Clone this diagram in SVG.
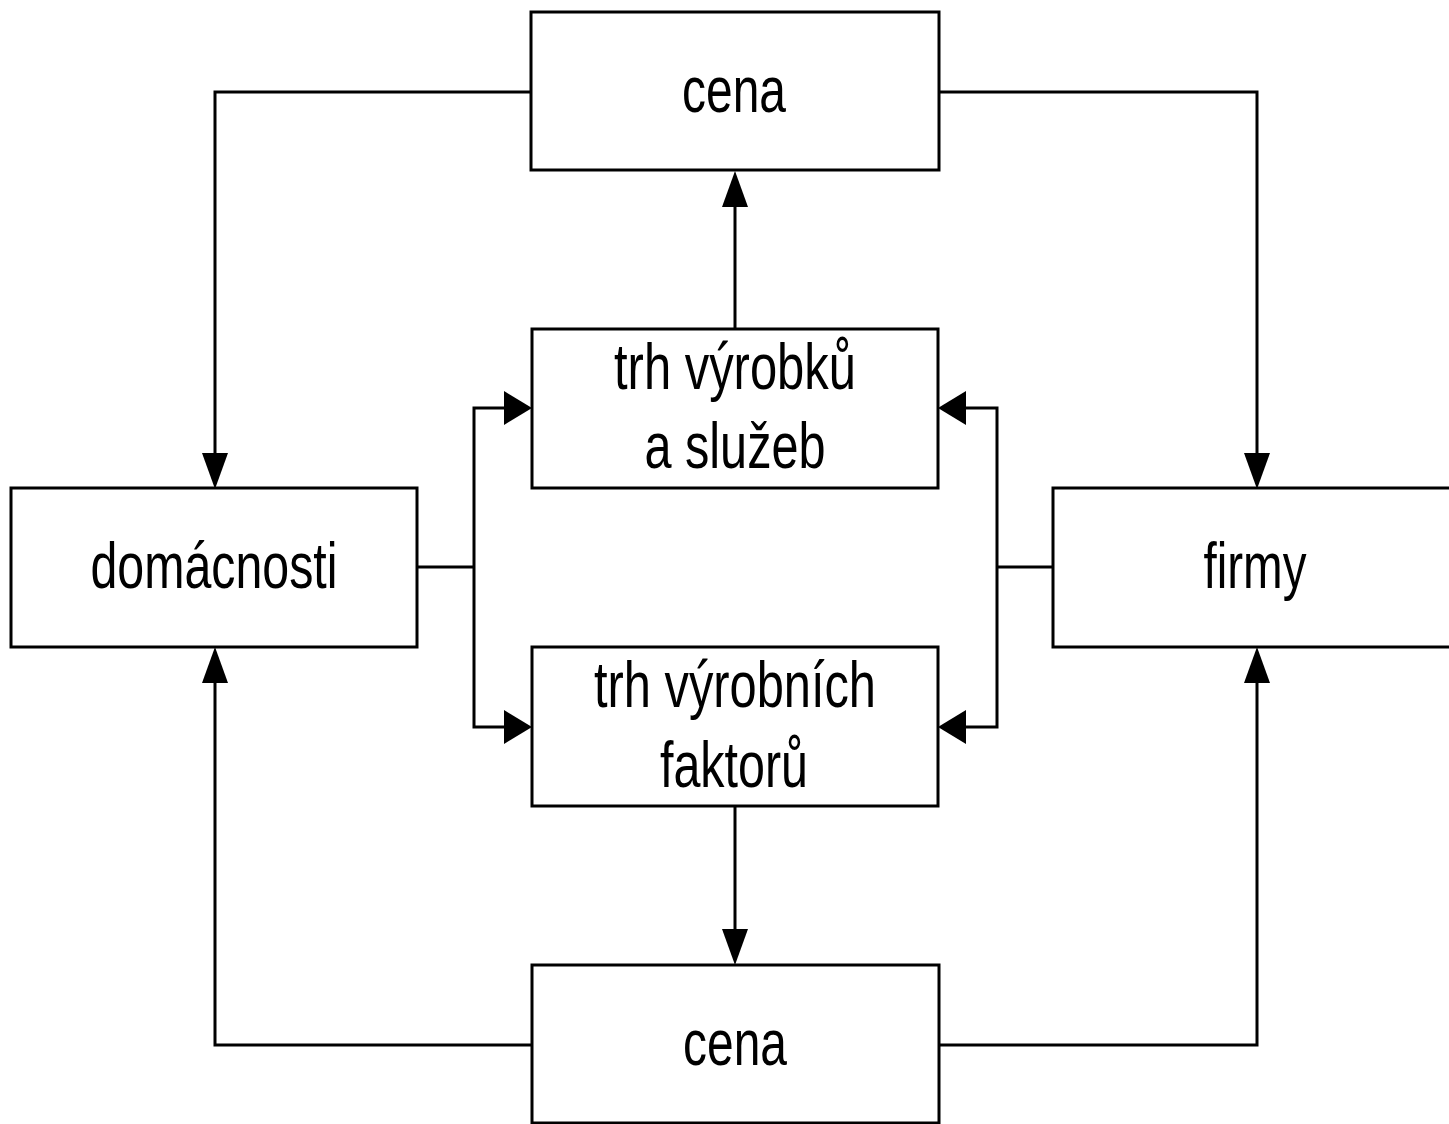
<svg xmlns="http://www.w3.org/2000/svg" width="1449" height="1124" viewBox="0 0 1449 1124">
<style>
.box{fill:#fff;stroke:#000;stroke-width:3}
.lbl{font-family:"Liberation Sans",Arial,sans-serif;font-size:64px;fill:#000;text-anchor:middle}
.ln{fill:none;stroke:#000;stroke-width:3}
.ah{fill:#000}
</style>
<rect width="1449" height="1124" fill="#fff"/>
<g id="connectors">
<polyline class="ln" points="531,92 215,92 215,455"/>
<polygon class="ah" points="202,453 228,453 215,489"/>
<polyline class="ln" points="939,92 1257,92 1257,455"/>
<polygon class="ah" points="1244,453 1270,453 1257,489"/>
<line class="ln" x1="735" y1="328" x2="735" y2="205"/>
<polygon class="ah" points="722,207 748,207 735,171"/>
<polyline class="ln" points="417,567 474,567"/>
<polyline class="ln" points="506,408 474,408 474,727 506,727"/>
<polygon class="ah" points="504,391 504,425 532,408"/>
<polygon class="ah" points="504,710 504,744 532,727"/>
<polyline class="ln" points="1053,567 997,567"/>
<polyline class="ln" points="965,408 997,408 997,727 965,727"/>
<polygon class="ah" points="966,391 966,425 938,408"/>
<polygon class="ah" points="966,710 966,744 938,727"/>
<line class="ln" x1="735" y1="806" x2="735" y2="930"/>
<polygon class="ah" points="722,929 748,929 735,965"/>
<polyline class="ln" points="532,1045 215,1045 215,682"/>
<polygon class="ah" points="202,683 228,683 215,647"/>
<polyline class="ln" points="939,1045 1257,1045 1257,682"/>
<polygon class="ah" points="1244,683 1270,683 1257,647"/>
</g>
<g id="node-cena-top">
<rect class="box" x="531" y="12" width="408" height="158"/>
<text class="lbl" x="734" y="112" textLength="104" lengthAdjust="spacingAndGlyphs">cena</text>
</g>
<g id="node-trh-vyrobku">
<rect class="box" x="532" y="329" width="406" height="159"/>
<text class="lbl" x="735" y="389" textLength="242" lengthAdjust="spacingAndGlyphs">trh výrobků</text>
<text class="lbl" x="735" y="468" textLength="181" lengthAdjust="spacingAndGlyphs">a služeb</text>
</g>
<g id="node-domacnosti">
<rect class="box" x="11" y="488" width="406" height="159"/>
<text class="lbl" x="214" y="588" textLength="247" lengthAdjust="spacingAndGlyphs">domácnosti</text>
</g>
<g id="node-firmy">
<rect class="box" x="1053" y="488" width="410" height="159"/>
<text class="lbl" x="1255" y="588" textLength="103" lengthAdjust="spacingAndGlyphs">firmy</text>
</g>
<g id="node-trh-vyrobnich">
<rect class="box" x="532" y="647" width="406" height="159"/>
<text class="lbl" x="735" y="707" textLength="282" lengthAdjust="spacingAndGlyphs">trh výrobních</text>
<text class="lbl" x="734" y="787" textLength="148" lengthAdjust="spacingAndGlyphs">faktorů</text>
</g>
<g id="node-cena-bottom">
<rect class="box" x="532" y="965" width="407" height="158"/>
<text class="lbl" x="735" y="1065" textLength="104" lengthAdjust="spacingAndGlyphs">cena</text>
</g>
</svg>
